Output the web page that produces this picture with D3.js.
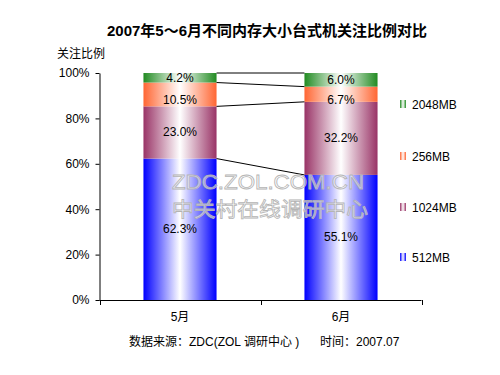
<!DOCTYPE html>
<html><head><meta charset="utf-8">
<script src="https://cdn.jsdelivr.net/npm/d3@7"></script>
<style>body{margin:0;background:#fff;} svg{display:block;}</style>
</head><body>
<svg id="c" width="500" height="375"></svg>
<script>
const months = ["5月", "6月"];
const seriesNames = ["512MB", "1024MB", "256MB", "2048MB"];
const seriesColors = ["#0000FF", "#993366", "#FF6633", "#228B22"];
const values512 = [62.3, 55.1];
const values1024 = [23.0, 32.2];
const values256 = [10.5, 6.7];
const values2048 = [4.2, 6.0];
const yTicks = [0, 20, 40, 60, 80, 100];
const title = "2007年5～6月不同内存大小台式机关注比例对比";
const yTitle = "关注比例";
const sourceText = "数据来源：ZDC(ZOL 调研中心 )";
const timeText = "时间：2007.07";

const allValues = [values512, values1024, values256, values2048];
const svg = d3.select("#c");
const cjk = "Arial, 'Liberation Sans', 'Noto Sans CJK SC', sans-serif";
const m = {l: 99.5, r: 421.5, t: 73, b: 300};

const x = d3.scaleBand().domain(months).range([m.l, m.r]).paddingInner(0.546).paddingOuter(0.273);
const y = d3.scaleLinear().domain([0, 100]).range([m.b, m.t]);

// gradients
const defs = svg.append("defs");
seriesColors.forEach((c, i) => {
  const g = defs.append("linearGradient").attr("id", "g" + i).attr("x1", "0").attr("x2", "1").attr("y1", "0").attr("y2", "0");
  g.append("stop").attr("offset", "0").attr("stop-color", c);
  g.append("stop").attr("offset", "0.5").attr("stop-color", "#fff");
  g.append("stop").attr("offset", "1").attr("stop-color", c);
});

// title
svg.append("text").attr("x", 267).attr("y", 36).attr("text-anchor", "middle")
  .attr("font-family", cjk).attr("font-size", 15).attr("font-weight", "bold").text(title);
svg.append("text").attr("x", 57).attr("y", 58).attr("font-family", cjk).attr("font-size", 12).text(yTitle);

// stacked data
const rows = months.map((mo, j) => {
  const r = {month: mo};
  seriesNames.forEach((s, i) => r[s] = allValues[i][j]);
  return r;
});
const stacked = d3.stack().keys(seriesNames)(rows);

// bars
stacked.forEach((layer, i) => {
  svg.append("g").selectAll("rect").data(layer).join("rect")
    .attr("x", d => x(d.data.month))
    .attr("width", x.bandwidth())
    .attr("y", d => y(d[1]))
    .attr("height", d => y(d[0]) - y(d[1]))
    .attr("fill", `url(#g${i})`);
});

// series lines
stacked.forEach(layer => {
  svg.append("line")
    .attr("x1", x(months[0]) + x.bandwidth()).attr("x2", x(months[1]))
    .attr("y1", y(layer[0][1])).attr("y2", y(layer[1][1]))
    .attr("stroke", "#000").attr("stroke-width", 1);
});

// watermark (on top of bars)
svg.append("text").attr("x", 268).attr("y", 189).attr("text-anchor", "middle")
  .attr("font-family", "Arial, 'Liberation Sans', sans-serif").attr("font-size", 20)
  .attr("textLength", 192).attr("lengthAdjust", "spacingAndGlyphs")
  .attr("fill", "#fff").attr("fill-opacity", 0.55).attr("stroke", "#b4b4b4").attr("stroke-width", 0.8).text("ZDC.ZOL.COM.CN");
svg.append("text").attr("x", 270).attr("y", 217).attr("text-anchor", "middle")
  .attr("font-family", "'Noto Sans CJK SC', sans-serif").attr("font-size", 20)
  .attr("textLength", 196).attr("lengthAdjust", "spacingAndGlyphs")
  .attr("fill", "#fff").attr("fill-opacity", 0.55).attr("stroke", "#b4b4b4").attr("stroke-width", 0.8).text("中关村在线调研中心");

// labels
stacked.forEach((layer, i) => {
  svg.append("g").selectAll("text").data(layer).join("text")
    .attr("x", d => x(d.data.month) + x.bandwidth() / 2)
    .attr("y", d => (y(d[0]) + y(d[1])) / 2 + 4 + (seriesNames[i] === "256MB" ? 6 : 0))
    .attr("text-anchor", "middle").attr("font-family", cjk).attr("font-size", 12)
    .text(d => (d[1] - d[0]).toFixed(1) + "%");
});

// axes
const yAxis = svg.append("g").attr("transform", `translate(${m.l},0)`)
  .call(d3.axisLeft(y).tickValues(yTicks).tickFormat(d => d + "%").tickSize(4).tickSizeOuter(0));
yAxis.selectAll("text").attr("font-family", cjk).attr("font-size", 12).attr("fill", "#000").attr("x", -10);
yAxis.select(".domain").attr("stroke", "#000");
yAxis.selectAll("line").attr("stroke", "#000");

const xAxis = svg.append("g").attr("transform", `translate(0,${m.b})`);
xAxis.append("line").attr("x1", m.l).attr("x2", m.r).attr("y1", 0.5).attr("y2", 0.5).attr("stroke", "#000");
const bounds = [m.l, (x(months[0]) + x.bandwidth() / 2 + x(months[1]) + x.bandwidth() / 2) / 2, m.r];
xAxis.selectAll(".tk").data(bounds).join("line").attr("class", "tk")
  .attr("x1", d => Math.round(d) + 0.5).attr("x2", d => Math.round(d) + 0.5).attr("y1", 0).attr("y2", 5).attr("stroke", "#000");
xAxis.selectAll(".cl").data(months).join("text").attr("class", "cl")
  .attr("x", d => x(d) + x.bandwidth() / 2).attr("y", 21).attr("text-anchor", "middle")
  .attr("font-family", cjk).attr("font-size", 12).text(d => d);

// legend
const legendY = {"2048MB": 104, "256MB": 156, "1024MB": 207, "512MB": 257};
seriesNames.forEach((s, i) => {
  const ly = legendY[s];
  svg.append("rect").attr("x", 400).attr("y", ly - 4).attr("width", 6).attr("height", 8).attr("fill", `url(#g${i})`);
  svg.append("text").attr("x", 412).attr("y", ly + 4.5).attr("font-family", cjk).attr("font-size", 12).text(s);
});

// footer
svg.append("text").attr("x", 129).attr("y", 346).attr("font-family", cjk).attr("font-size", 12).text(sourceText);
svg.append("text").attr("x", 320).attr("y", 346).attr("font-family", cjk).attr("font-size", 12).text(timeText);
</script>
</body></html>
